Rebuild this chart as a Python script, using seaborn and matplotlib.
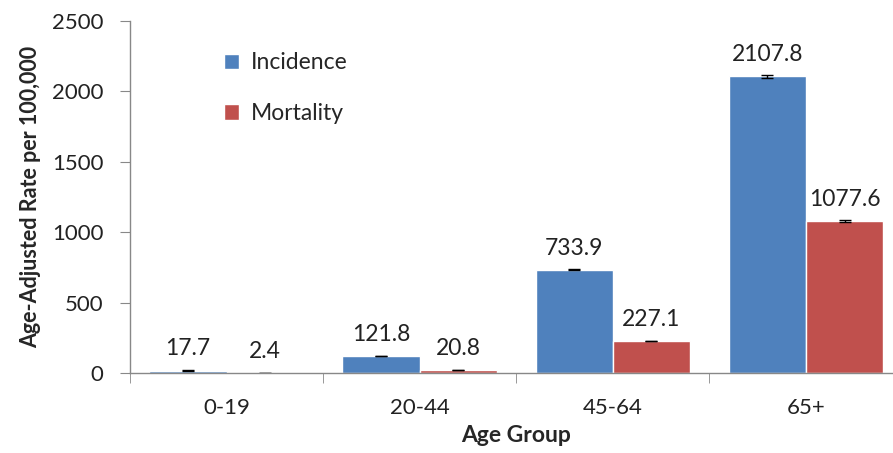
import matplotlib
matplotlib.use("Agg")
import matplotlib.pyplot as plt
import seaborn as sns
import pandas as pd

sns.set_style("white")
plt.rcParams["font.family"] = ["Lato", "DejaVu Sans"]

age_groups = ["0-19", "20-44", "45-64", "65+"]
incidence = [17.7, 121.8, 733.9, 2107.8]
mortality = [2.4, 20.8, 227.1, 1077.6]
incidence_err = [1.0, 1.5, 3.0, 10.0]
mortality_err = [0.4, 0.8, 2.0, 8.0]

df = pd.DataFrame({
    "Age Group": age_groups * 2,
    "Rate": incidence + mortality,
    "Measure": ["Incidence"] * 4 + ["Mortality"] * 4,
})

fig = plt.figure(figsize=(8.93, 4.53), dpi=100)
ax = fig.add_axes([0.1456, 0.1766, 0.865, 0.777])

sns.barplot(data=df, x="Age Group", y="Rate", hue="Measure",
            palette=["#4F81BD", "#C0504D"], width=0.8, errorbar=None,
            saturation=1, ax=ax)

for cont, err in zip(ax.containers, [incidence_err, mortality_err]):
    xs = [p.get_x() + p.get_width() / 2 for p in cont]
    ys = [p.get_height() for p in cont]
    ax.errorbar(xs, ys, yerr=err, fmt="none", ecolor="black", elinewidth=1,
                capsize=4, capthick=1)
    ax.bar_label(cont, labels=[f"{v:.1f}" for v in ys], padding=8, fontsize=16.5,
                 color="#222222")

ax.set_ylim(0, 2500)
ax.set_xlim(-0.5, 3.5)
ax.set_yticks(range(0, 2501, 500))
ax.tick_params(axis="y", labelsize=16, length=7, color="#888888", left=True,
               labelcolor="#222222", pad=12)
ax.set_xticks([-0.5, 0.5, 1.5, 2.5, 3.5], minor=True)
ax.tick_params(axis="x", which="major", length=0, labelsize=16, pad=18,
               labelcolor="#222222")
ax.tick_params(axis="x", which="minor", length=7, color="#888888", bottom=True)

for s in ["top", "right"]:
    ax.spines[s].set_visible(False)
for s in ["left", "bottom"]:
    ax.spines[s].set_color("#888888")
    ax.spines[s].set_linewidth(1)

ax.set_ylabel("Age-Adjusted Rate per 100,000", fontsize=15.5, fontweight="bold",
              labelpad=8)
ax.set_xlabel("Age Group", fontsize=16.5, fontweight="bold", labelpad=5)

ax.legend(title=None, loc="upper left", bbox_to_anchor=(0.095, 0.97),
          frameon=False, fontsize=16.5, labelspacing=1.3, handlelength=0.65,
          handleheight=0.65, handletextpad=0.5)

fig.savefig("out.png", dpi=100)
